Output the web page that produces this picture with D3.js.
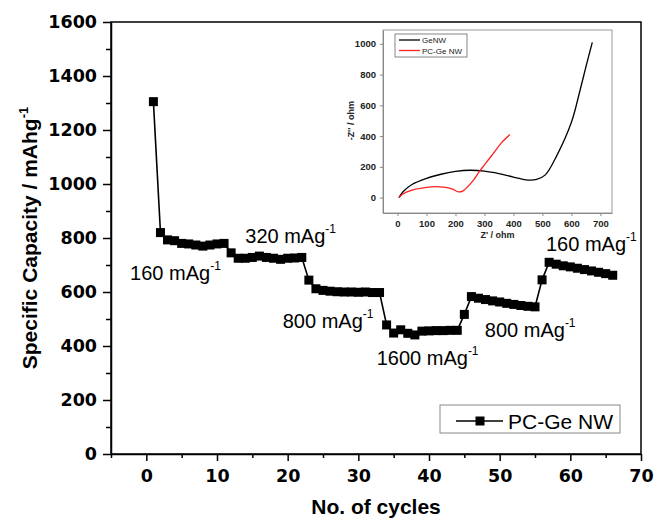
<!DOCTYPE html>
<html lang="en">
<head>
<meta charset="utf-8">
<script src="https://cdn.jsdelivr.net/npm/d3@7"></script>
<style>
body { margin: 0; background: #fff; }
svg { font-family: "Liberation Sans", Arial, sans-serif; }
.axis path, .axis line { stroke: #000; stroke-width: 1.5; fill: none; }
.axis text { font-family: "DejaVu Sans", sans-serif; font-size: 17.5px; font-weight: bold; fill: #000; }
.inset .axis path, .inset .axis line { stroke: #888; stroke-width: 1; }
.inset .axis text { font-family: "Liberation Sans", Arial, sans-serif; font-size: 9.5px; font-weight: bold; fill: #222; }
</style>
</head>
<body>
<script>
// main chart data
var cycles = [1,2,3,4,5,6,7,8,9,10,11,12,13,14,15,16,17,18,19,20,21,22,23,24,25,26,27,28,29,30,31,32,33,
  34,35,36,37,38,39,40,41,42,43,44,45,46,47,48,49,50,51,52,53,54,55,56,57,58,59,60,61,62,63,64,65,66];
var capacity = [1305,820,793,790,780,778,774,770,774,778,780,745,725,725,728,733,728,725,721,725,726,728,
  644,612,606,603,601,600,600,599,600,598,598,
  478,448,460,447,441,455,456,457,457,458,458,
  517,583,577,572,567,563,558,554,550,547,545,
  645,710,703,697,693,688,683,678,673,668,662];

var xMajor = [0,10,20,30,40,50,60,70];
var xMinor = [-5,5,15,25,35,45,55,65];
var yMajor = [0,200,400,600,800,1000,1200,1400,1600];
var yMinor = [100,300,500,700,900,1100,1300,1500];

// current density labels
var rateText = ["160","320","800","1600","800","160"];
var rateAtCycle = [-2.3,14.0,19.3,32.6,47.9,56.55];
var rateAtCap = [644,781,467,330,433,752];

// inset (impedance) data
var geZ1 = [5,20,50,100,150,200,250,300,350,400,450,480,510,550,600,630,650,672];
var geZ2 = [0,40,85,125,152,170,178,172,156,134,114,118,148,275,490,700,850,1010];
var pcZ1 = [5,20,50,100,130,160,190,210,226,260,284,300,330,360,388];
var pcZ2 = [0,25,48,66,71,68,55,37,44,109,174,213,286,359,410];
var insetXTicks = [0,100,200,300,400,500,600,700];
var insetYTicks = [0,200,400,600,800,1000];
var seriesNames = ["GeNW","PC-Ge NW"];
var seriesColors = ["#000","#ff2020"];

var width = 655, height = 519;
var fmt = d3.format("d");

var svg = d3.select("body").append("svg")
    .attr("width", width)
    .attr("height", height);

var x = d3.scaleLinear().domain([-5,70]).range([111,641]);
var y = d3.scaleLinear().domain([0,1600]).range([454,22]);

// frame
svg.append("rect")
    .attr("x", x(-5)).attr("y", y(1600))
    .attr("width", x(70) - x(-5)).attr("height", y(0) - y(1600))
    .attr("fill", "none").attr("stroke", "#000").attr("stroke-width", 1.5);

// minor ticks
svg.append("g").attr("class","axis")
    .attr("transform","translate(0," + y(0) + ")")
    .call(d3.axisBottom(x).tickValues(xMinor).tickSize(4).tickFormat(""))
    .select(".domain").remove();
svg.append("g").attr("class","axis")
    .attr("transform","translate(" + x(-5) + ",0)")
    .call(d3.axisLeft(y).tickValues(yMinor).tickSize(5).tickFormat(""))
    .select(".domain").remove();

// major axes
svg.append("g").attr("class","axis")
    .attr("transform","translate(0," + y(0) + ")")
    .call(d3.axisBottom(x).tickValues(xMajor).tickFormat(fmt).tickSize(7).tickPadding(9).tickSizeOuter(0));
svg.append("g").attr("class","axis")
    .attr("transform","translate(" + x(-5) + ",0)")
    .call(d3.axisLeft(y).tickValues(yMajor).tickFormat(fmt).tickSize(8).tickPadding(6).tickSizeOuter(0));

// axis titles
svg.append("text")
    .attr("x", (x(-5) + x(70)) / 2).attr("y", 514)
    .attr("text-anchor","middle")
    .style("font-size","21px").style("font-weight","bold")
    .text("No. of cycles");

var yt = svg.append("text")
    .attr("transform","translate(37," + ((y(0) + y(1600)) / 2) + ") rotate(-90)")
    .attr("text-anchor","middle")
    .style("font-size","21px").style("font-weight","bold");
yt.append("tspan").text("Specific Capacity / mAhg");
yt.append("tspan").attr("dy",-9).style("font-size","13px").text("-1");

// data line and markers
var pts = cycles.map(function(c,i){ return [c, capacity[i]]; });
svg.append("path")
    .datum(pts)
    .attr("fill","none").attr("stroke","#000").attr("stroke-width",1.6)
    .attr("d", d3.line().x(function(d){ return x(d[0]); }).y(function(d){ return y(d[1]); }));

svg.selectAll("rect.pt")
    .data(pts)
    .enter().append("rect")
    .attr("class","pt")
    .attr("x", function(d){ return x(d[0]) - 4.5; })
    .attr("y", function(d){ return y(d[1]) - 4.5; })
    .attr("width", 9).attr("height", 9)
    .attr("fill","#000");

// rate labels
rateText.forEach(function(t,i){
  var lab = svg.append("text")
      .attr("x", x(rateAtCycle[i])).attr("y", y(rateAtCap[i]))
      .style("font-size","20px");
  lab.append("tspan").text(t + " mAg");
  lab.append("tspan").attr("dy",-10).style("font-size","12px").text("-1");
});

// legend
var lg = svg.append("g");
lg.append("rect")
    .attr("x",440).attr("y",405).attr("width",180).attr("height",28)
    .attr("fill","#fff").attr("stroke","#888").attr("stroke-width",1);
lg.append("line").attr("x1",456).attr("x2",503).attr("y1",421).attr("y2",421)
    .attr("stroke","#000").attr("stroke-width",1.6);
lg.append("rect").attr("x",475.5).attr("y",416.5).attr("width",9).attr("height",9).attr("fill","#000");
lg.append("text").attr("x",508).attr("y",429).style("font-size","21px").text("PC-Ge NW");

// ---- inset ----
var inset = svg.append("g").attr("class","inset");
var x2 = d3.scaleLinear().domain([-50,740]).range([383,612]);
var y2 = d3.scaleLinear().domain([-100,1090]).range([213,30]);

inset.append("rect")
    .attr("x", x2(-50)).attr("y", y2(1090))
    .attr("width", x2(740) - x2(-50)).attr("height", y2(-100) - y2(1090))
    .attr("fill","#fff").attr("stroke","#999").attr("stroke-width",1);

inset.append("g").attr("class","axis")
    .attr("transform","translate(0," + y2(-100) + ")")
    .call(d3.axisBottom(x2).tickValues(insetXTicks).tickFormat(fmt).tickSize(3).tickPadding(4).tickSizeOuter(0));
inset.append("g").attr("class","axis")
    .attr("transform","translate(" + x2(-50) + ",0)")
    .call(d3.axisLeft(y2).tickValues(insetYTicks).tickFormat(fmt).tickSize(3).tickPadding(4).tickSizeOuter(0));

inset.append("text")
    .attr("x", x2(345)).attr("y", 238)
    .attr("text-anchor","middle")
    .style("font-size","9px").style("font-weight","bold").style("fill","#222")
    .text("Z' / ohm");
inset.append("text")
    .attr("transform","translate(354," + y2(500) + ") rotate(-90)")
    .attr("text-anchor","middle")
    .style("font-size","9px").style("font-weight","bold").style("fill","#222")
    .text("-Z'' / ohm");

var nyq = d3.line().curve(d3.curveCatmullRom)
    .x(function(d){ return x2(d[0]); }).y(function(d){ return y2(d[1]); });

inset.append("path")
    .datum(geZ1.map(function(v,i){ return [v, geZ2[i]]; }))
    .attr("fill","none").attr("stroke",seriesColors[0]).attr("stroke-width",1.3)
    .attr("d", nyq);
inset.append("path")
    .datum(pcZ1.map(function(v,i){ return [v, pcZ2[i]]; }))
    .attr("fill","none").attr("stroke",seriesColors[1]).attr("stroke-width",1.3)
    .attr("d", nyq);

// inset legend
var ilg = inset.append("g");
ilg.append("rect").attr("x",395).attr("y",34).attr("width",72).attr("height",23)
    .attr("fill","#fff").attr("stroke","#666").attr("stroke-width",0.8);
seriesNames.forEach(function(n,i){
  ilg.append("line").attr("x1",399).attr("x2",420)
      .attr("y1",40 + i*10.5).attr("y2",40 + i*10.5)
      .attr("stroke",seriesColors[i]).attr("stroke-width",1.3);
  ilg.append("text").attr("x",422).attr("y",43 + i*10.5)
      .style("font-size","8px").style("fill","#222").text(n);
});
</script>
</body>
</html>
